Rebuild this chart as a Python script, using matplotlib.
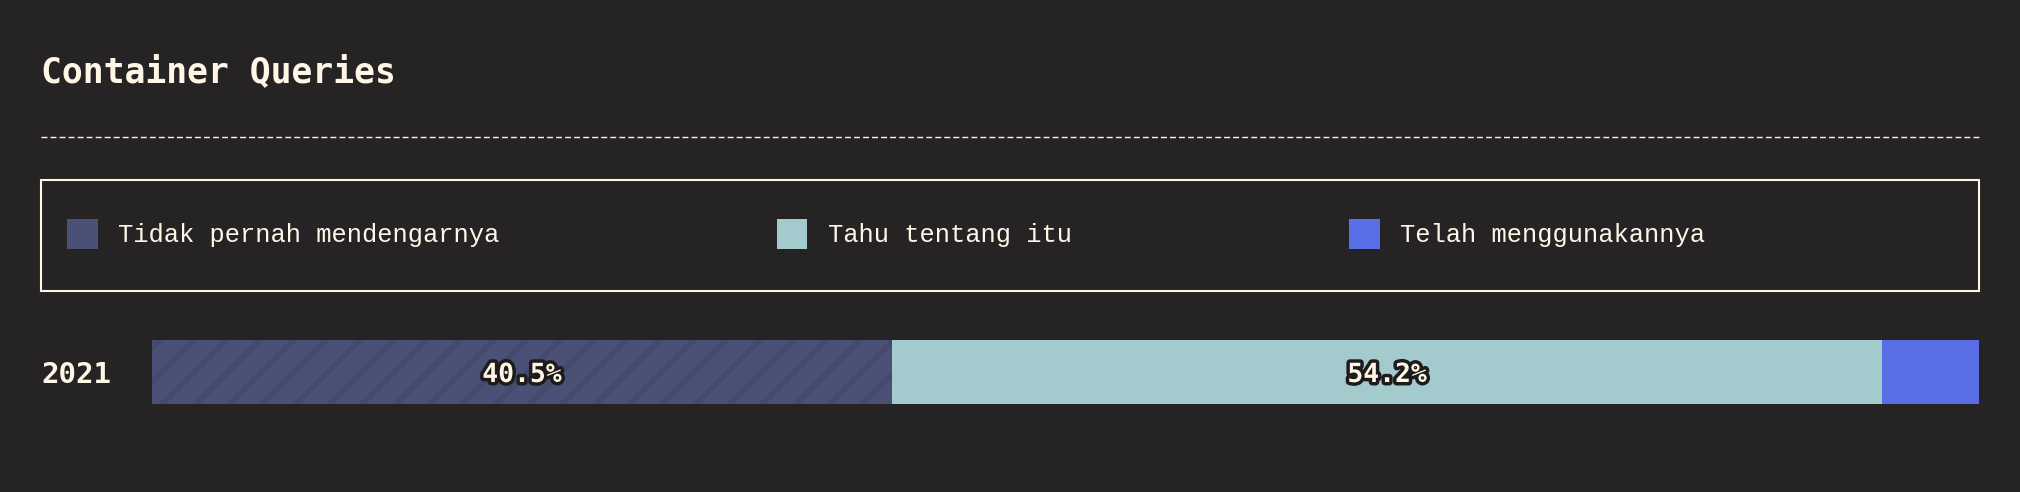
import matplotlib
matplotlib.use("Agg")
import matplotlib.pyplot as plt
import matplotlib.patheffects as pe
from matplotlib.patches import Rectangle
from matplotlib.lines import Line2D

# data
title = "Container Queries"
years = ["2021"]
series_names = ["Tidak pernah mendengarnya", "Tahu tentang itu", "Telah menggunakannya"]
values = [40.5, 54.2, 5.3]
colors = ["#4A5076", "#A3CBCD", "#586FE6"]

BG = "#262324"
CREAM = "#FFF6E6"
HATCH = "#444A6E"
W, H = 2020, 492

plt.rcParams["hatch.linewidth"] = 4.0

fig = plt.figure(figsize=(W / 100, H / 100), dpi=100, facecolor=BG)

def fx(px):
    return px / W

def fy(py):
    return 1 - py / H

# title
fig.text(fx(41), fy(82), title, color=CREAM, fontsize=25, fontweight="bold",
         family="DejaVu Sans Mono", ha="left", va="baseline")

# dashed separator
fig.add_artist(Line2D([fx(41), fx(1979)], [fy(137), fy(137)], color=CREAM,
                      lw=1.0, linestyle=(0, (4.3, 2.2))))

# legend frame
fig.add_artist(Rectangle((fx(41), fy(291)), fx(1979) - fx(41), fy(180) - fy(291),
                         fill=False, edgecolor=CREAM, lw=1.5))

# bar axes
ax = fig.add_axes([fx(152), fy(404), fx(1979) - fx(152), fy(340) - fy(404)])
ax.set_facecolor(BG)
left = 0
for i, (name, v, c) in enumerate(zip(series_names, values, colors)):
    if i == 0:
        ax.barh(0, v, left=left, height=1, facecolor=c, label=name,
                hatch="/", edgecolor=HATCH, linewidth=0)
    else:
        ax.barh(0, v, left=left, height=1, facecolor=c, label=name,
                edgecolor="none", linewidth=0)
    if v > 10:
        ax.text(left + v / 2, 0, f"{v}%", ha="center", va="center_baseline",
                color=CREAM, fontsize=19, fontweight="bold", family="DejaVu Sans Mono",
                path_effects=[pe.withStroke(linewidth=5, foreground="#1E1B1C")])
    left += v

ax.set_xlim(0, sum(values))
ax.set_ylim(-0.5, 0.5)
ax.set_yticks([0])
ax.set_yticklabels(years, fontsize=21, fontweight="bold", family="DejaVu Sans Mono",
                   color=CREAM)
ax.tick_params(axis="y", length=0, pad=29)
ax.set_xticks([])
for s in ax.spines.values():
    s.set_visible(False)

# legend
handles = [Rectangle((0, 0), 1, 1, facecolor=c, edgecolor="none") for c in colors]
leg = fig.legend(handles, series_names, loc="center left",
                 bbox_to_anchor=(fx(67), fy(234)), ncol=3, frameon=False,
                 borderpad=0, borderaxespad=0, handlelength=1.2, handleheight=1.47,
                 handletextpad=0.8, columnspacing=10.85,
                 prop={"family": "Liberation Mono", "size": 18.4})
for t in leg.get_texts():
    t.set_color(CREAM)

fig.savefig("out.png", dpi=100, facecolor=BG)
